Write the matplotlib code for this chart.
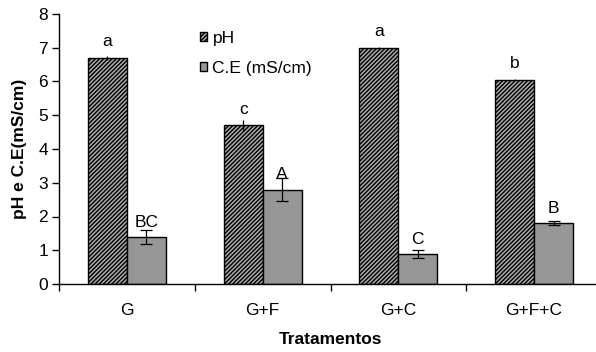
import matplotlib
matplotlib.use("Agg")
import matplotlib.pyplot as plt
import numpy as np

plt.rcParams['font.family'] = ['Liberation Sans', 'DejaVu Sans']
plt.rcParams['hatch.linewidth'] = 1.0

categories = ['G', 'G+F', 'G+C', 'G+F+C']
ph_values = [6.7, 4.7, 7.0, 6.05]
ph_errors = [0.05, 0.15, 0.03, 0.02]
ph_letters = ['a', 'c', 'a', 'b']
ce_values = [1.4, 2.8, 0.88, 1.81]
ce_errors = [0.2, 0.34, 0.12, 0.07]
ce_letters = ['BC', 'A', 'C', 'B']
y_ticks = [0, 1, 2, 3, 4, 5, 6, 7, 8]

fig = plt.figure(figsize=(5.96, 3.52), dpi=100)
ax = fig.add_axes([59/596, 1 - 284/352, 543/596, 270/352])

x = np.arange(len(categories)) + 0.5
w = 0.287
ax.bar(x - w/2, ph_values, w, facecolor='#aaaaaa', edgecolor='black', hatch='////////',
       linewidth=1.0, label='pH', zorder=2)
ax.errorbar(x - w/2, ph_values, yerr=ph_errors, fmt='none', ecolor='black', elinewidth=0.9,
            capsize=0, zorder=3)
ax.bar(x + w/2, ce_values, w, facecolor='#969696', edgecolor='black',
       linewidth=1.0, label='C.E (mS/cm)', zorder=2)
ax.errorbar(x + w/2, ce_values, yerr=ce_errors, fmt='none', ecolor='black', elinewidth=0.9,
            capsize=4, capthick=0.9, zorder=3)

for xi, v, t in zip(x - w/2, ph_values, ph_letters):
    ax.text(xi, v + 0.34, t, ha='center', va='baseline', fontsize=12.5)
for xi, v, t in zip(x + w/2, ce_values, ce_letters):
    ax.text(xi, v + 0.3, t, ha='center', va='baseline', fontsize=12.5)

ax.set_xlim(0, 4)
ax.set_ylim(0, 8)
ax.set_yticks(y_ticks)
ax.set_xticks([0, 1, 2, 3, 4])
ax.set_xticklabels([])
ax.set_xticks(x, minor=True)
ax.set_xticklabels(categories, minor=True)
ax.tick_params(axis='x', which='minor', length=0, pad=14, labelsize=12.5)
ax.tick_params(axis='x', which='major', length=5, direction='out', width=1)
ax.tick_params(axis='y', length=5, direction='out', width=1, labelsize=12.5, pad=3)
for s in ['top', 'right']:
    ax.spines[s].set_visible(False)
ax.spines['left'].set_linewidth(1)
ax.spines['bottom'].set_linewidth(1)

ax.set_xlabel('Tratamentos', fontweight='bold', fontsize=12.5, labelpad=10)
ax.set_ylabel('pH e C.E(mS/cm)', fontweight='bold', fontsize=12.5)
ax.yaxis.set_label_coords(-32/543, 0.5)

leg = ax.legend(loc='upper left', bbox_to_anchor=(134/543, 1 - 10/270), frameon=False,
                fontsize=12.5, handlelength=0.42, handleheight=0.42, handletextpad=0.3,
                labelspacing=0.85, borderaxespad=0)

fig.savefig('out.png', dpi=100)
